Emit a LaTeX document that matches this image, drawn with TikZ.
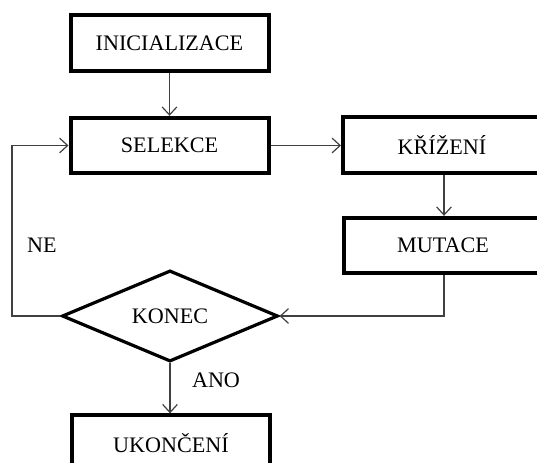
\documentclass[tikz,border=0pt]{standalone}
\usepackage{fontspec}
\setmainfont{Liberation Serif}
\usetikzlibrary{shapes.geometric,arrows.meta}
\begin{document}
\begin{tikzpicture}[x=0.75pt,y=-0.75pt,
  box/.style={draw=black,line width=3pt,rectangle,minimum width=148.5pt,minimum height=41.5pt,inner sep=0pt,font=\fontsize{16.6}{18}\selectfont},
  decision/.style={draw=black,line width=2.4pt,diamond,minimum width=162pt,minimum height=62pt,inner sep=0pt,font=\fontsize{16.6}{18}\selectfont},
  conn/.style={draw=black!75,line width=0.9pt,-{Straight Barb[length=6pt,width=11pt,line width=0.9pt]}},
  lbl/.style={font=\fontsize{16.6}{18}\selectfont}]
\useasboundingbox (0,0) rectangle (537,463);
\clip (0,0) rectangle (537,463);
\node[box] (init) at (169.5,43) {INICIALIZACE};
\node[box] (sel) at (169.5,145.5) {SELEKCE};
\node[box] (kriz) at (442,145) {KŘÍŽENÍ};
\node[box] (mut) at (443,245.5) {MUTACE};
\node[decision] (konec) at (170,316) {KONEC};
\node[box] (ukon) at (171,443) {UKONČENÍ};
\coordinate (c1) at (12,316);
\coordinate (c2) at (12,145.5);
\coordinate (c3) at (444,316);
\draw[conn] (init.south) -- (init.south |- sel.north);
\draw[conn] (sel.east) -- (kriz.west |- sel.east);
\draw[conn] (444,0 |- kriz.south) -- (444,0 |- mut.north);
\draw[conn] (444,0 |- mut.south) -- (c3) -- (konec.east);
\draw[conn] (konec.west) -- (c1) -- (c2) -- (sel.west);
\draw[conn] (konec.south) -- (konec.south |- ukon.north);
\node[lbl] (ano) at (216,380) {ANO};
\node[lbl] (ne) at (42,245) {NE};
\end{tikzpicture}
\end{document}
